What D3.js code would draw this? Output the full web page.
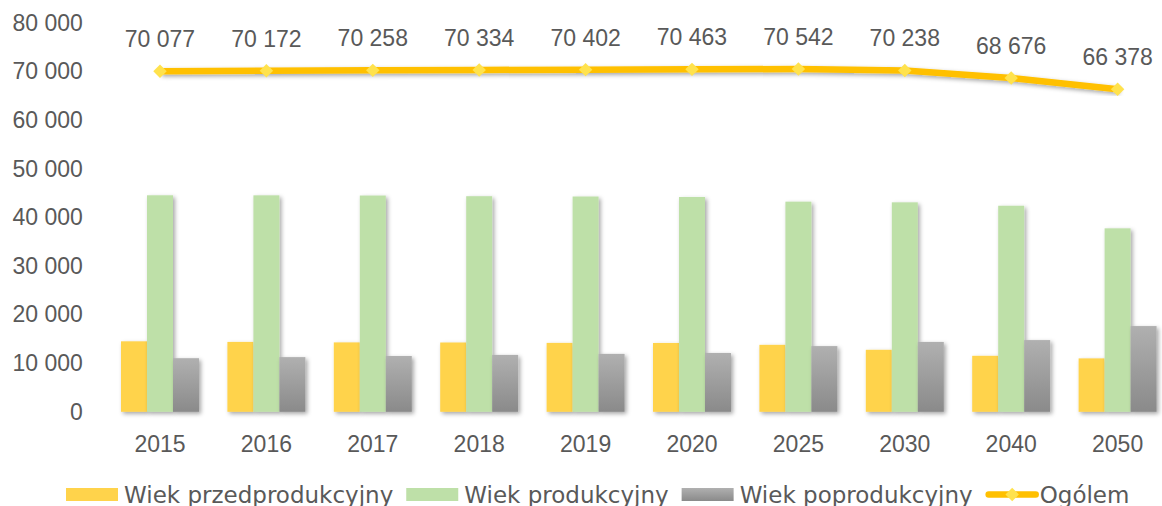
<!DOCTYPE html>
<html>
<head>
<meta charset="utf-8">
<script src="https://cdn.jsdelivr.net/npm/d3@7"></script>
<style>
  body { margin: 0; background: #fff; }
  svg { display: block; font-family: "Liberation Sans", Arial, sans-serif; }
</style>
</head>
<body>
<div id="chart"></div>
<script>
const years = ["2015", "2016", "2017", "2018", "2019", "2020", "2025", "2030", "2040", "2050"];
const przed = [14500, 14380, 14280, 14260, 14180, 14160, 13780, 12760, 11520, 10990];
const prod = [44550, 44540, 44500, 44360, 44300, 44200, 43240, 43100, 42400, 37750];
const popr = [11030, 11250, 11480, 11710, 11920, 12100, 13520, 14380, 14760, 17640];
const ogolem = [70077, 70172, 70258, 70334, 70402, 70463, 70542, 70238, 68676, 66378];
const seriesNames = ["Wiek przedprodukcyjny", "Wiek produkcyjny", "Wiek poprodukcyjny"];
const lineName = "Ogólem";
const yTicks = [0, 10000, 20000, 30000, 40000, 50000, 60000, 70000, 80000];

const width = 1162, height = 506;
const textColor = "#595959";
const fmt = v => d3.format(",")(v).replace(/,/g, " ");

const svg = d3.select("#chart").append("svg")
  .attr("width", width)
  .attr("height", height);

const defs = svg.append("defs");
const shadow = defs.append("filter").attr("id", "shadow")
  .attr("x", "-30%").attr("y", "-30%").attr("width", "160%").attr("height", "160%");
shadow.append("feDropShadow")
  .attr("dx", 2).attr("dy", 2).attr("stdDeviation", 2)
  .attr("flood-color", "#000").attr("flood-opacity", 0.35);
const gridShadow = defs.append("filter").attr("id", "gshadow")
  .attr("x", "-5%").attr("y", "-200%").attr("width", "110%").attr("height", "500%");
gridShadow.append("feDropShadow")
  .attr("dx", 0).attr("dy", 1).attr("stdDeviation", 0.8)
  .attr("flood-color", "#000").attr("flood-opacity", 0.15);
const grad = defs.append("linearGradient").attr("id", "grayGrad")
  .attr("x1", 0).attr("y1", 0).attr("x2", 0).attr("y2", 1);
grad.append("stop").attr("offset", "0%").attr("stop-color", "#b0b0b0");
grad.append("stop").attr("offset", "100%").attr("stop-color", "#8a8a8a");

const colors = ["#ffd34b", "#bee0a8", "url(#grayGrad)"];

const x0 = 106.8, x1 = 1170.8;
const y = d3.scaleLinear().domain([0, 80000]).range([411.8, 23]);
const x = d3.scaleBand().domain(years).range([x0, x1]).paddingInner(0.267).paddingOuter(0.1335);
const xs = d3.scaleBand().domain(seriesNames).range([0, x.bandwidth()]);

// gridlines + y labels
const yAxis = svg.append("g")
  .attr("transform", `translate(${x0},0)`)
  .call(d3.axisLeft(y).tickValues(yTicks).tickSize(-(x1 - x0)).tickPadding(24).tickFormat(fmt));
yAxis.select(".domain").remove();
yAxis.selectAll(".tick line")
  .attr("stroke", "#d9d9d9").attr("stroke-width", 1.6)
  .attr("filter", "url(#gshadow)");
yAxis.selectAll(".tick text")
  .attr("fill", textColor).attr("font-size", 23);

// x labels
const xAxis = svg.append("g")
  .attr("transform", `translate(0,${y(0)})`)
  .call(d3.axisBottom(x).tickSize(0).tickPadding(24));
xAxis.select(".domain").remove();
xAxis.selectAll(".tick text").attr("fill", textColor).attr("font-size", 23);

// bars
const barData = years.map((yr, i) => ({
  year: yr,
  vals: [przed[i], prod[i], popr[i]]
}));
const groups = svg.append("g").selectAll("g")
  .data(barData)
  .join("g")
  .attr("transform", d => `translate(${x(d.year)},0)`);
groups.selectAll("rect")
  .data(d => d.vals.map((v, k) => ({ name: seriesNames[k], v, k })))
  .join("rect")
  .attr("x", d => xs(d.name))
  .attr("y", d => y(d.v))
  .attr("width", xs.bandwidth())
  .attr("height", d => y(0) - y(d.v))
  .attr("fill", d => colors[d.k])
  .attr("filter", "url(#shadow)");

// line
const cx = yr => x(yr) + x.bandwidth() / 2;
const line = d3.line().x((d, i) => cx(years[i])).y(d => y(d));
svg.append("path")
  .datum(ogolem)
  .attr("d", line)
  .attr("fill", "none")
  .attr("stroke", "#ffc000")
  .attr("stroke-width", 6.5)
  .attr("stroke-linejoin", "round")
  .attr("filter", "url(#shadow)");

const diamond = d3.symbol().type(d3.symbolSquare).size(90);
svg.append("g").selectAll("path")
  .data(ogolem)
  .join("path")
  .attr("d", diamond)
  .attr("transform", (d, i) => `translate(${cx(years[i])},${y(d)}) rotate(45)`)
  .attr("fill", "#ffe24d");

svg.append("g").selectAll("text")
  .data(ogolem)
  .join("text")
  .attr("x", (d, i) => cx(years[i]))
  .attr("y", d => y(d) - 24)
  .attr("text-anchor", "middle")
  .attr("fill", textColor)
  .attr("font-size", 23)
  .text(d => fmt(d));

// legend
const legend = svg.append("g")
  .attr("transform", "translate(66,0)")
  .style("font-family", "'DejaVu Sans', sans-serif");
let lx = 0;
const legY = 488;
seriesNames.forEach((name, k) => {
  legend.append("rect")
    .attr("x", lx).attr("y", legY)
    .attr("width", 52).attr("height", 13)
    .attr("fill", colors[k]);
  const t = legend.append("text")
    .attr("x", lx + 58).attr("y", legY + 15)
    .attr("fill", textColor).attr("font-size", 23)
    .text(name);
  lx += 58 + t.node().getComputedTextLength() + 13;
});
legend.append("line")
  .attr("x1", lx + 3).attr("x2", lx + 50)
  .attr("y1", legY + 6.5).attr("y2", legY + 6.5)
  .attr("stroke", "#ffc000").attr("stroke-width", 6.5).attr("stroke-linecap", "round");
legend.append("path")
  .attr("d", diamond)
  .attr("transform", `translate(${lx + 26.5},${legY + 6.5}) rotate(45)`)
  .attr("fill", "#ffe24d");
legend.append("text")
  .attr("x", lx + 54).attr("y", legY + 15)
  .attr("fill", textColor).attr("font-size", 23)
  .text(lineName);
</script>
</body>
</html>
